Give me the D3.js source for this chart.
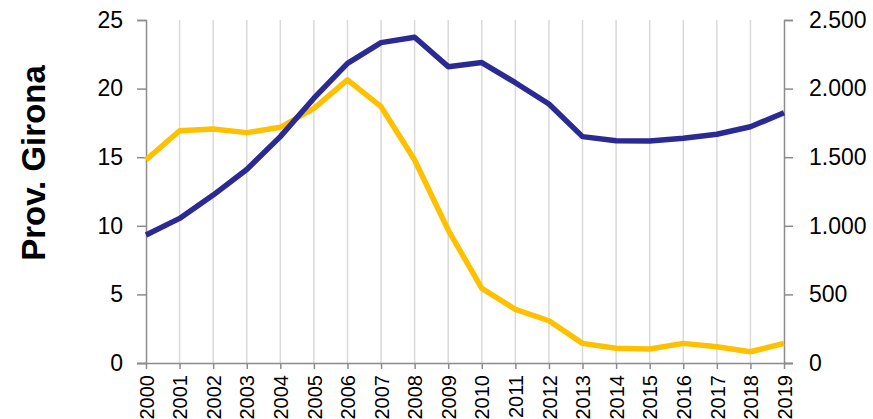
<!DOCTYPE html>
<html><head><meta charset="utf-8">
<script src="https://cdn.jsdelivr.net/npm/d3@7"></script>
<style>html,body{margin:0;padding:0;background:#fff;} svg{display:block;}</style>
</head><body>
<svg id="chart" width="873" height="419"></svg>
<script>
const years = [2000,2001,2002,2003,2004,2005,2006,2007,2008,2009,2010,2011,2012,2013,2014,2015,2016,2017,2018,2019];
// yellow series (left axis)
const yellowValues = [14.8,16.93,17.06,16.79,17.18,18.56,20.63,18.68,14.8,9.69,5.44,3.91,3.08,1.43,1.07,1.02,1.43,1.19,0.82,1.43];
// blue series (right axis)
const blueValues = [933,1054,1224,1410,1650,1930,2184,2335,2374,2160,2190,2043,1888,1650,1620,1618,1638,1667,1722,1824];
const leftTicks = [0,5,10,15,20,25];
const rightTicks = [0,500,1000,1500,2000,2500];
const yTitle = "Prov. Girona";

const svg = d3.select("#chart");
const x0 = 146, x1 = 784, yTop = 20, yBot = 363;
const x = d3.scalePoint().domain(years).range([x0, x1]);
const yL = d3.scaleLinear().domain([0,25]).range([yBot, yTop]);
const yR = d3.scaleLinear().domain([0,2500]).range([yBot, yTop]);
const axisColor = "#8c8c8c";
const font = "'Liberation Sans', Arial, sans-serif";

// gridlines
svg.append("g").selectAll("line").data(years.slice(1, -1)).join("line")
  .attr("x1", d => x(d)).attr("x2", d => x(d))
  .attr("y1", yTop).attr("y2", yBot)
  .attr("stroke", "#d9d9d9").attr("stroke-width", 1.5);

// left axis
const gl = svg.append("g").attr("transform", `translate(${x0},0)`)
  .call(d3.axisLeft(yL).tickValues(leftTicks).tickSize(9).tickPadding(14).tickFormat(d3.format("d")));
// right axis
const fmtR = d => d3.format(",")(d).replace(/,/g, ".");
const gr = svg.append("g").attr("transform", `translate(${x1},0)`)
  .call(d3.axisRight(yR).tickValues(rightTicks).tickSize(9).tickPadding(16).tickFormat(fmtR));
// bottom axis
const gb = svg.append("g").attr("transform", `translate(0,${yBot})`)
  .call(d3.axisBottom(x).tickSize(6).tickSizeOuter(0));
gb.select(".domain").attr("d", `M${x0-9},0.5H${x1+9}`);
gb.selectAll("text")
  .attr("transform", "rotate(-90)")
  .attr("text-anchor", "end")
  .attr("x", -12).attr("y", 0).attr("dy", "0.36em")
  .style("font-size", "20px");

[gl, gr, gb].forEach(g => {
  g.selectAll(".domain").attr("stroke", axisColor).attr("stroke-width", 1.5);
  g.selectAll(".tick line").attr("stroke", axisColor).attr("stroke-width", 1.5);
  g.selectAll("text").attr("fill", "#000").style("font-family", font);
});
gl.selectAll("text").style("font-size", "23px");
gr.selectAll("text").style("font-size", "23px");

// lines
const lineL = d3.line().x((d,i) => x(years[i])).y(d => yL(d));
const lineR = d3.line().x((d,i) => x(years[i])).y(d => yR(d));
svg.append("path").datum(yellowValues).attr("d", lineL)
  .attr("fill", "none").attr("stroke", "#FFC000").attr("stroke-width", 5.5).attr("stroke-linejoin", "round");
svg.append("path").datum(blueValues).attr("d", lineR)
  .attr("fill", "none").attr("stroke", "#2B2A94").attr("stroke-width", 5.5).attr("stroke-linejoin", "round");

// y title
svg.append("text")
  .attr("transform", `translate(45,${(63+263)/2}) rotate(-90)`)
  .attr("text-anchor", "middle")
  .style("font-family", font).style("font-weight", "bold").style("font-size", "33px")
  .attr("fill", "#000")
  .text(yTitle);
</script>
</body></html>
